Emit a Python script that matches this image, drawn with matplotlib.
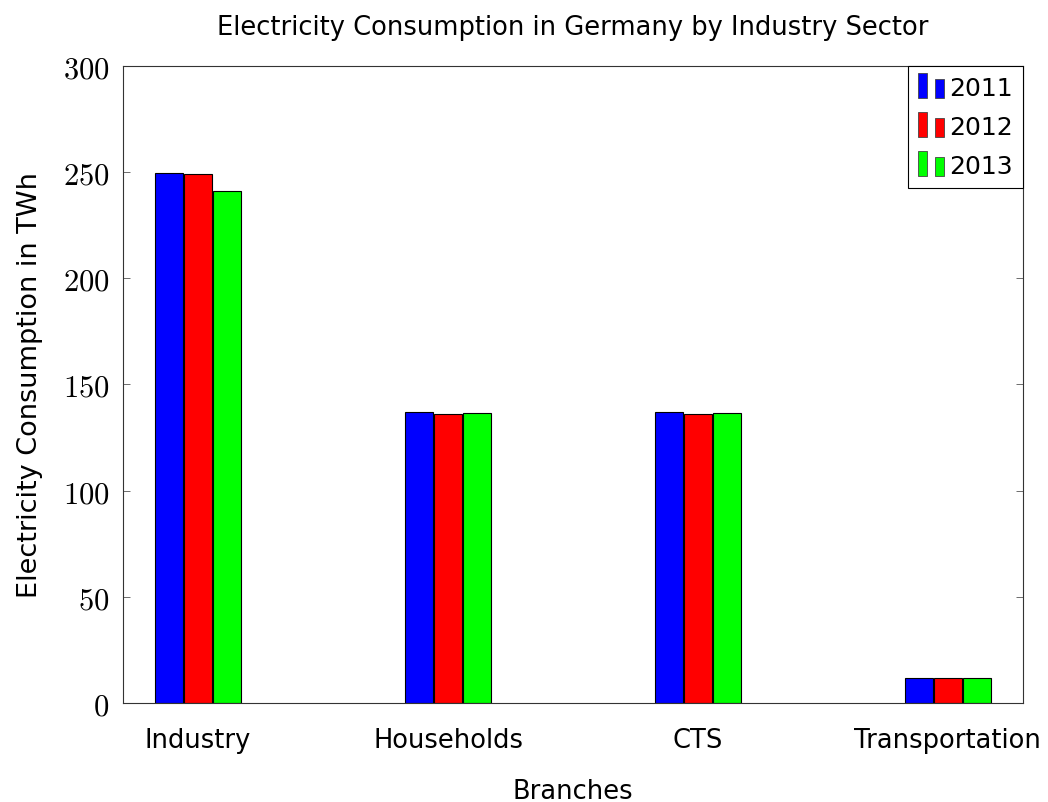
import numpy as np
import matplotlib
matplotlib.use("Agg")
import matplotlib.pyplot as plt
from matplotlib.patches import Rectangle
from matplotlib.legend_handler import HandlerBase

plt.rcParams["font.family"] = ["DejaVu Sans"]
plt.rcParams["mathtext.fontset"] = "cm"

# data
branches = ["Industry", "Households", "CTS", "Transportation"]
years = ["2011", "2012", "2013"]
values_2011 = [249.7, 137.0, 137.0, 12.0]
values_2012 = [248.8, 136.3, 136.3, 11.9]
values_2013 = [241.0, 136.7, 136.7, 11.9]
colors = ["#0000ff", "#ff0000", "#00ff00"]
yticks = [0, 50, 100, 150, 200, 250, 300]


class TwoBarHandler(HandlerBase):
    # pgfplots style legend image: a tall bar and a short bar
    def create_artists(self, legend, orig_handle, xdescent, ydescent,
                       width, height, fontsize, trans):
        fc = orig_handle.get_facecolor()
        w = width * 0.32
        y0 = -ydescent - 0.2 * height
        r1 = Rectangle((-xdescent, y0), w, height * 1.45,
                       facecolor=fc, edgecolor="#444444", lw=0.6, transform=trans)
        r2 = Rectangle((-xdescent + width * 0.62, y0), w, height * 1.1,
                       facecolor=fc, edgecolor="#444444", lw=0.6, transform=trans)
        return [r1, r2]


fig, ax = plt.subplots(figsize=(10.48, 8.03), dpi=100)
fig.subplots_adjust(left=0.1175, right=0.976, top=0.917, bottom=0.123)

x = np.arange(len(branches))
width = 0.112
step = 0.116
handles = []
for i, (vals, c) in enumerate(zip([values_2011, values_2012, values_2013], colors)):
    b = ax.bar(x + (i - 1) * step, vals, width, color=c, edgecolor="black",
               linewidth=0.8, label=years[i])
    handles.append(b.patches[0])

ax.set_xlim(-0.3, 3.3)
ax.set_ylim(0, 300)
ax.set_xticks(x)
ax.set_xticklabels(branches, fontsize=18.5)
ax.set_yticks(yticks)
ax.set_yticklabels([f"${v}$" for v in yticks], fontsize=22)
ax.tick_params(axis="x", length=0, pad=17)
ax.tick_params(axis="y", direction="in", length=5, right=True, width=0.6,
               color="#555555", pad=10)
for s in ax.spines.values():
    s.set_linewidth(0.8)
    s.set_color("#333333")

ax.set_xlabel("Branches", fontsize=18.5, labelpad=18)
ax.set_ylabel("Electricity Consumption in TWh", fontsize=19.5, labelpad=14)
ax.set_title("Electricity Consumption in Germany by Industry Sector",
             fontsize=18.5, pad=23)

leg = ax.legend(handles, years, loc="upper right", borderaxespad=0,
                fontsize=18, fancybox=False, edgecolor="black",
                framealpha=1, handler_map={Rectangle: TwoBarHandler()},
                handlelength=1.1, handletextpad=0.15, labelspacing=0.6,
                borderpad=0.4)
leg.get_frame().set_linewidth(0.8)

plt.savefig("out.png", dpi=100)
